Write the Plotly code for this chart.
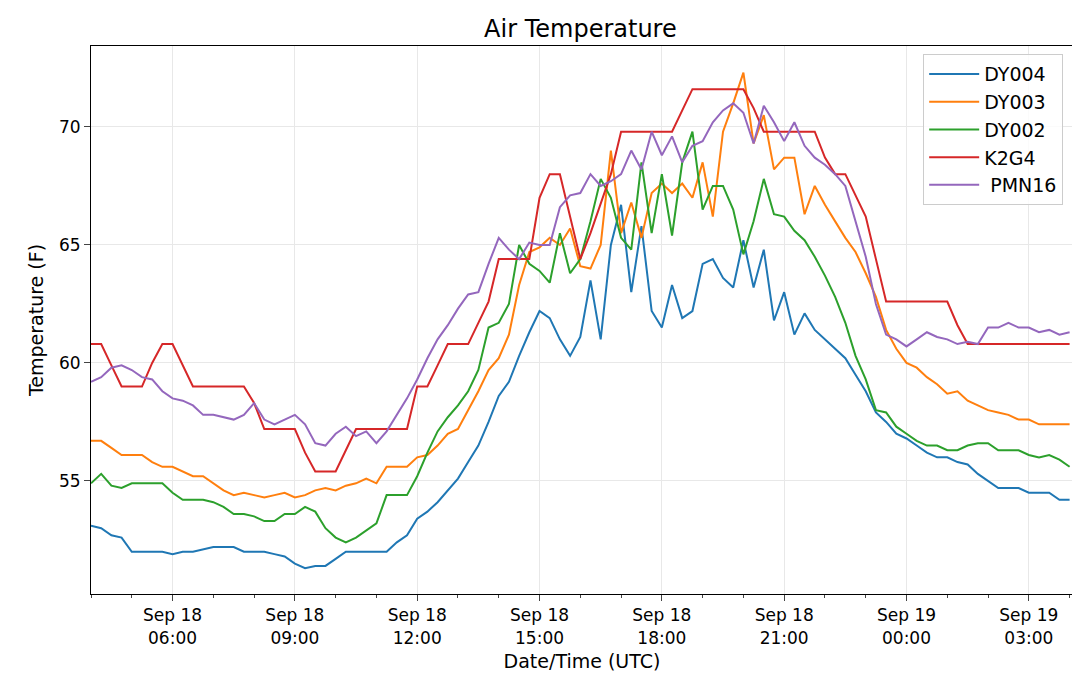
import pandas as pd
import plotly.graph_objects as go

times = pd.date_range("2019-09-18 04:00", periods=97, freq="15min")

dy004 = [53.1,53.0,52.7,52.6,52.0,52.0,52.0,52.0,51.9,52.0,52.0,52.1,52.2,52.2,52.2,52.0,52.0,52.0,51.9,51.8,
         51.5,51.3,51.4,51.4,51.7,52.0,52.0,52.0,52.0,52.0,52.4,52.7,53.4,53.7,54.1,54.6,55.1,55.8,56.5,57.5,
         58.6,59.2,60.3,61.3,62.2,61.9,61.0,60.3,61.1,63.5,61.0,65.0,66.7,63.0,65.8,62.2,61.5,63.3,61.9,62.2,
         64.2,64.4,63.6,63.2,65.2,63.2,64.8,61.8,63.0,61.2,62.1,61.4,61.0,60.6,60.2,59.5,58.8,57.9,57.5,57.0,
         56.8,56.5,56.2,56.0,56.0,55.8,55.7,55.3,55.0,54.7,54.7,54.7,54.5,54.5,54.5,54.2,54.2]
dy003 = [56.7,56.7,56.4,56.1,56.1,56.1,55.8,55.6,55.6,55.4,55.2,55.2,54.9,54.6,54.4,54.5,54.4,54.3,54.4,54.5,
         54.3,54.4,54.6,54.7,54.6,54.8,54.9,55.1,54.9,55.6,55.6,55.6,56.0,56.1,56.5,57.0,57.2,58.0,58.8,59.7,
         60.2,61.2,63.3,64.7,64.9,65.3,65.0,65.7,64.1,64.0,65.0,69.0,65.5,66.8,65.3,67.2,67.6,67.2,67.6,67.0,
         68.5,66.2,69.8,71.0,72.3,69.3,70.5,68.2,68.7,68.7,66.3,67.5,66.7,66.0,65.3,64.7,63.8,62.8,61.4,60.6,
         60.0,59.8,59.4,59.1,58.7,58.8,58.4,58.2,58.0,57.9,57.8,57.6,57.6,57.4,57.4,57.4,57.4]
dy002 = [54.9,55.3,54.8,54.7,54.9,54.9,54.9,54.9,54.5,54.2,54.2,54.2,54.1,53.9,53.6,53.6,53.5,53.3,53.3,53.6,
         53.6,53.9,53.7,53.0,52.6,52.4,52.6,52.9,53.2,54.4,54.4,54.4,55.2,56.2,57.1,57.7,58.2,58.8,59.7,61.5,
         61.7,62.5,65.0,64.2,63.9,63.4,65.5,63.8,64.4,66.0,67.8,67.0,65.3,64.8,68.5,65.5,68.0,65.4,68.5,69.8,
         66.5,67.5,67.5,66.5,64.6,66.0,67.8,66.3,66.2,65.6,65.2,64.5,63.7,62.8,61.7,60.3,59.3,58.0,57.9,57.3,
         57.0,56.7,56.5,56.5,56.3,56.3,56.5,56.6,56.6,56.3,56.3,56.3,56.1,56.0,56.1,55.9,55.6]
k2g4 = [60.8,60.8,59.9,59.0,59.0,59.0,60.0,60.8,60.8,59.9,59.0,59.0,59.0,59.0,59.0,59.0,58.3,57.2,57.2,57.2,
        57.2,56.2,55.4,55.4,55.4,56.3,57.2,57.2,57.2,57.2,57.2,57.2,59.0,59.0,59.9,60.8,60.8,60.8,61.7,62.6,
        64.4,64.4,64.4,64.4,67.0,68.0,68.0,66.2,64.4,65.5,66.8,68.0,69.8,69.8,69.8,69.8,69.8,69.8,70.7,71.6,
        71.6,71.6,71.6,71.6,71.6,70.8,69.8,69.8,69.8,69.8,69.8,69.8,68.7,68.0,68.0,67.1,66.2,64.4,62.6,62.6,
        62.6,62.6,62.6,62.6,62.6,61.6,60.8,60.8,60.8,60.8,60.8,60.8,60.8,60.8,60.8,60.8,60.8]
pmn16 = [59.2,59.4,59.8,59.9,59.7,59.4,59.3,58.8,58.5,58.4,58.2,57.8,57.8,57.7,57.6,57.8,58.3,57.6,57.4,57.6,
         57.8,57.4,56.6,56.5,57.0,57.3,56.9,57.1,56.6,57.1,57.8,58.5,59.3,60.2,61.0,61.6,62.3,62.9,63.0,64.2,
         65.3,64.8,64.4,65.1,65.0,65.0,66.6,67.1,67.2,68.0,67.5,67.7,68.0,69.0,68.2,69.8,68.8,69.6,68.5,69.2,
         69.4,70.2,70.7,71.0,70.6,69.3,70.9,70.2,69.4,70.2,69.2,68.7,68.4,68.0,67.5,66.0,64.5,62.5,61.2,61.0,
         60.7,61.0,61.3,61.1,61.0,60.8,60.9,60.8,61.5,61.5,61.7,61.5,61.5,61.3,61.4,61.2,61.3]

series = [("DY004", dy004, "#1f77b4"), ("DY003", dy003, "#ff7f0e"), ("DY002", dy002, "#2ca02c"),
          ("K2G4", k2g4, "#d62728"), (" PMN16", pmn16, "#9467bd")]

fig = go.Figure()
for name, vals, col in series:
    fig.add_trace(go.Scatter(x=times, y=vals, name=name, mode="lines", line=dict(color=col, width=2)))

tickvals = pd.date_range("2019-09-18 06:00", periods=8, freq="3h")
ticktext = [t.strftime("%b %d<br>%H:%M") for t in tickvals]

fig.update_layout(
    width=1080, height=681, template="plotly_white",
    font=dict(family="DejaVu Sans", size=17, color="black"),
    title=dict(text="Air Temperature", x=0.53, xanchor="center", yref="container", y=0.97,
               yanchor="middle", font=dict(size=24)),
    margin=dict(l=83, r=15, t=38, b=95),
    plot_bgcolor="white",
    legend=dict(x=0.99, y=0.985, xanchor="right", yanchor="top", bordercolor="#cccccc", borderwidth=1,
                bgcolor="rgba(255,255,255,0.8)", font=dict(size=19), itemwidth=50, tracegroupgap=4),
)
fig.update_xaxes(range=["2019-09-18 04:00", "2019-09-19 04:05"], tickvals=tickvals, ticktext=ticktext,
                 automargin=False,
                 showline=True, linecolor="black", mirror=True, ticks="outside", ticklen=6,
                 showgrid=True, gridcolor="#e8e8e8",
                 minor=dict(dtick=3600000, ticks="outside", ticklen=3, showgrid=False),
                 title=dict(text="Date/Time (UTC)", font=dict(size=19), standoff=8))
fig.update_yaxes(range=[50.21, 73.43], tickvals=[55, 60, 65, 70], showline=True, linecolor="black", mirror=True,
                 automargin=False,
                 ticks="outside", ticklen=6, showgrid=True, gridcolor="#e8e8e8", zeroline=False,
                 title=dict(text="Temperature (F)", font=dict(size=19), standoff=10))
fig.write_html("out.html")
